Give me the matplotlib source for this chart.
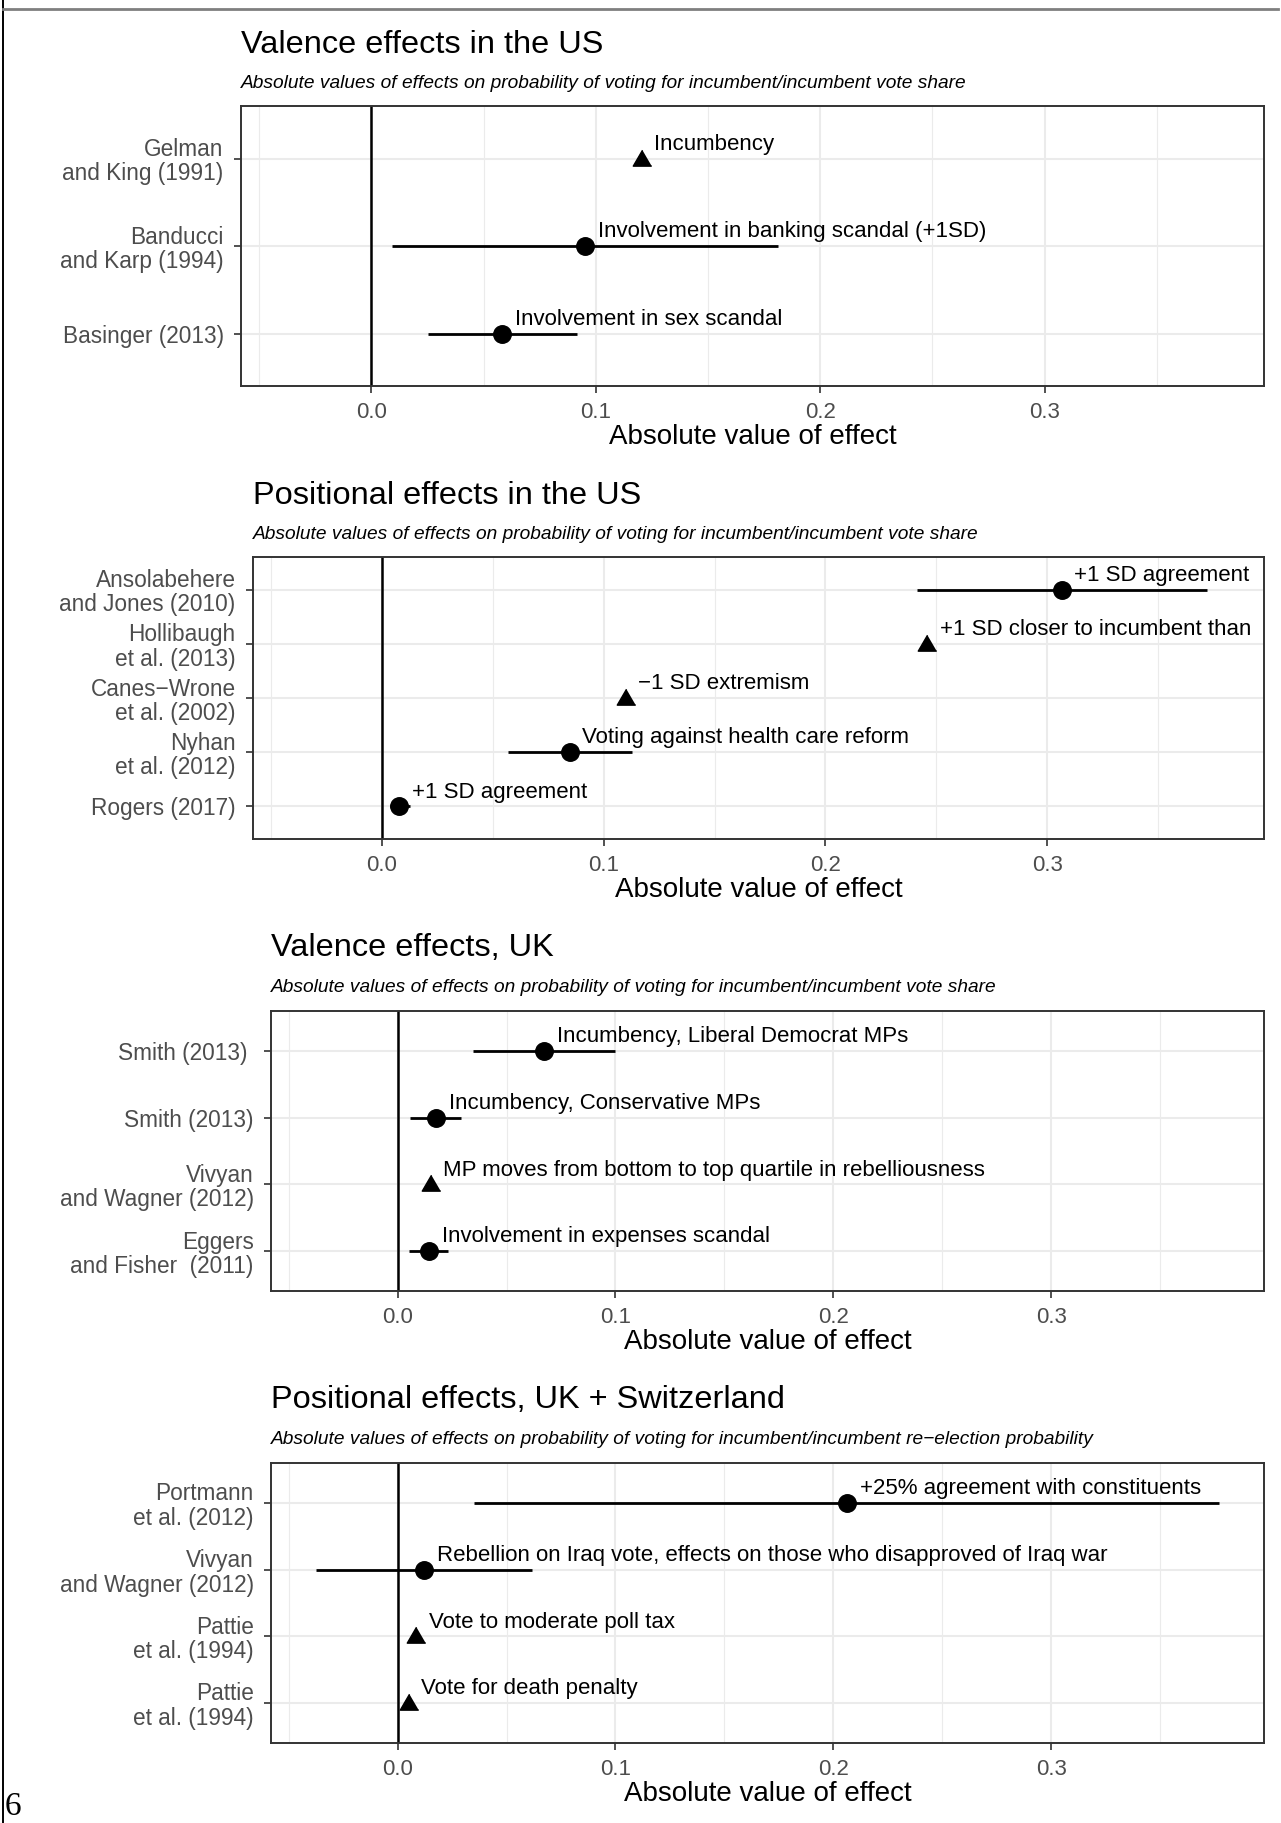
import numpy as np
import matplotlib
matplotlib.use("Agg")
import matplotlib.pyplot as plt
from matplotlib.lines import Line2D

plt.rcParams['font.family'] = ['Liberation Sans', 'DejaVu Sans']

W, H = 1281, 1823
nan = np.nan

# --- Valence effects in the US ---
us_val_studies = ["Gelman\nand King (1991)", "Banducci\nand Karp (1994)", "Basinger (2013)"]
us_val_est = [0.1204, 0.0953, 0.0583]
us_val_lo = [nan, 0.0093, 0.0252]
us_val_hi = [nan, 0.1810, 0.0914]
us_val_shape = ["^", "o", "o"]
us_val_labels = ["Incumbency", "Involvement in banking scandal (+1SD)", "Involvement in sex scandal"]

# --- Positional effects in the US ---
us_pos_studies = ["Ansolabehere\nand Jones (2010)", "Hollibaugh\net al. (2013)",
                  "Canes\u2212Wrone\net al. (2002)", "Nyhan\net al. (2012)", "Rogers (2017)"]
us_pos_est = [0.3066, 0.2458, 0.1100, 0.0847, 0.0078]
us_pos_lo = [0.2413, nan, nan, 0.0569, 0.0035]
us_pos_hi = [0.3722, nan, nan, 0.1127, 0.0125]
us_pos_shape = ["o", "^", "^", "o", "o"]
us_pos_labels = ["+1 SD agreement", "+1 SD closer to incumbent than", "\u22121 SD extremism",
                 "Voting against health care reform", "+1 SD agreement"]

# --- Valence effects, UK ---
uk_val_studies = ["Smith (2013) ", "Smith (2013)", "Vivyan\nand Wagner (2012)", "Eggers\nand Fisher  (2011)"]
uk_val_est = [0.0674, 0.0177, 0.0151, 0.0145]
uk_val_lo = [0.0345, 0.0059, nan, 0.0054]
uk_val_hi = [0.0997, 0.0291, nan, 0.0231]
uk_val_shape = ["o", "o", "^", "o"]
uk_val_labels = ["Incumbency, Liberal Democrat MPs", "Incumbency, Conservative MPs",
                 "MP moves from bottom to top quartile in rebelliousness", "Involvement in expenses scandal"]

# --- Positional effects, UK + Switzerland ---
uk_pos_studies = ["Portmann\net al. (2012)", "Vivyan\nand Wagner (2012)", "Pattie\net al. (1994)", "Pattie\net al. (1994)"]
uk_pos_est = [0.2064, 0.0122, 0.0086, 0.0051]
uk_pos_lo = [0.0351, -0.0374, nan, nan]
uk_pos_hi = [0.3770, 0.0619, nan, nan]
uk_pos_shape = ["o", "o", "^", "^"]
uk_pos_labels = ["+25% agreement with constituents",
                 "Rebellion on Iraq vote, effects on those who disapproved of Iraq war",
                 "Vote to moderate poll tax", "Vote for death penalty"]

sub_share = "Absolute values of effects on probability of voting for incumbent/incumbent vote share"
sub_reel = "Absolute values of effects on probability of voting for incumbent/incumbent re\u2212election probability"

# shared x range (ggplot style 5% expansion)
all_vals = us_val_lo + us_val_hi + us_pos_lo + us_pos_hi + uk_val_lo + uk_val_hi + uk_pos_lo + uk_pos_hi
xmin, xmax = np.nanmin(all_vals), np.nanmax(all_vals)
pad = 0.05 * (xmax - xmin)
XLIM = (xmin - pad, xmax + pad)

# R-like filled triangle (pch 17)
TRI = [(0, 1), (-1, -0.72), (1, -0.72)]

fig = plt.figure(figsize=(W / 100, H / 100), dpi=100)


def box(left, top, right, bottom):
    return [left / W, 1 - bottom / H, (right - left) / W, (bottom - top) / H]


def draw_panel(rect, title_y, sub_y, title, subtitle, studies, est, lo, hi, shapes, labels):
    ax = fig.add_axes(box(*rect))
    n = len(studies)
    ypos = np.arange(n, 0, -1)
    ax.set_xlim(XLIM)
    ax.set_ylim(0.4, n + 0.6)

    ax.set_xticks([0, 0.1, 0.2, 0.3])
    ax.set_xticklabels(["0.0", "0.1", "0.2", "0.3"])
    ax.set_xticks([-0.05, 0.05, 0.15, 0.25, 0.35], minor=True)
    ax.set_yticks(ypos)
    ax.set_yticklabels(studies, fontsize=16.3, color="#4D4D4D", ha="right",
                       multialignment="right", linespacing=1.08)
    ax.tick_params(axis="x", labelsize=16, labelcolor="#4D4D4D", length=5, width=1.2,
                   color="#333333", pad=6.5)
    ax.tick_params(axis="y", length=5, width=1.2, color="#333333", pad=7.5)
    ax.tick_params(which="minor", length=0)
    ax.grid(which="major", color="#EBEBEB", lw=1.5)
    ax.grid(which="minor", axis="x", color="#EBEBEB", lw=0.8)
    ax.set_axisbelow(True)
    for s in ax.spines.values():
        s.set_color("#333333")
        s.set_linewidth(1.4)

    ax.axvline(0, color="black", lw=1.8, zorder=2)

    for i in range(n):
        y = ypos[i]
        if not np.isnan(lo[i]):
            ax.plot([lo[i], hi[i]], [y, y], color="black", lw=2, zorder=3, solid_capstyle="butt")
        if shapes[i] == "o":
            ax.plot(est[i], y, marker="o", ms=12.6, color="black", ls="none", zorder=4)
        else:
            ax.plot(est[i], y, marker=TRI, ms=13.3, color="black", ls="none", zorder=4)
        ax.annotate(labels[i], (est[i], y), xytext=(9, 6.3), textcoords="offset points",
                    ha="left", va="baseline", fontsize=16, color="black", clip_on=True, zorder=5)

    ax.set_xlabel("Absolute value of effect", fontsize=20)
    ax.xaxis.set_label_coords(0.5, -51 / (rect[3] - rect[1]))
    ax.xaxis.label.set_va("center")

    fig.text(rect[0] / W, 1 - title_y / H, title, fontsize=23.4, ha="left", va="center")
    fig.text(rect[0] / W, 1 - sub_y / H, subtitle, fontsize=13.8, style="italic", ha="left", va="center")
    return ax


draw_panel((241, 106, 1264, 386), 45, 83, "Valence effects in the US", sub_share,
           us_val_studies, us_val_est, us_val_lo, us_val_hi, us_val_shape, us_val_labels)
draw_panel((253, 557, 1264, 839), 496, 535, "Positional effects in the US", sub_share,
           us_pos_studies, us_pos_est, us_pos_lo, us_pos_hi, us_pos_shape, us_pos_labels)
draw_panel((271, 1011, 1264, 1291), 948, 987, "Valence effects, UK", sub_share,
           uk_val_studies, uk_val_est, uk_val_lo, uk_val_hi, uk_val_shape, uk_val_labels)
draw_panel((271, 1463, 1264, 1743), 1400, 1440, "Positional effects, UK + Switzerland", sub_reel,
           uk_pos_studies, uk_pos_est, uk_pos_lo, uk_pos_hi, uk_pos_shape, uk_pos_labels)

# page frame bits
fig.add_artist(Line2D([3 / W, 3 / W], [0, 1], color="black", lw=1.4))
fig.add_artist(Line2D([3 / W, 1278 / W], [1 - 9 / H, 1 - 9 / H], color="#7F7F7F", lw=2))
fig.text(5 / W, 8 / H, "6", fontsize=24, family="Liberation Serif", ha="left", va="baseline")

fig.savefig("out.png", dpi=100)
